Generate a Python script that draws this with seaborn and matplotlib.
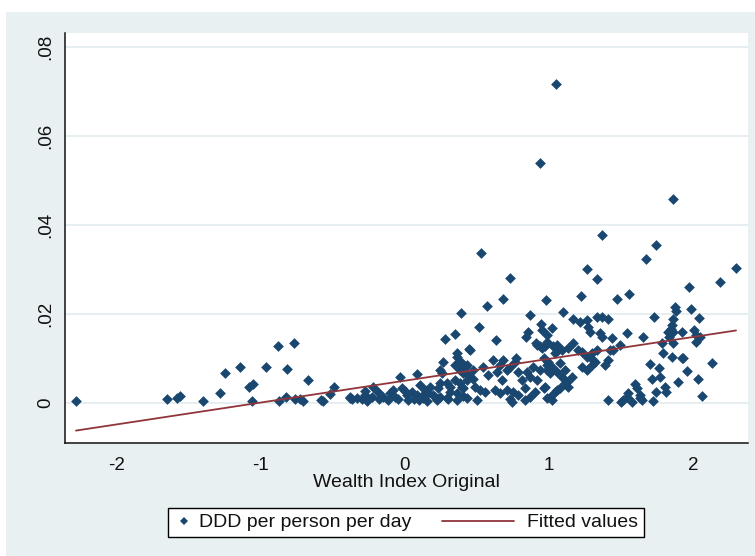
import matplotlib
matplotlib.use("Agg")
import matplotlib.pyplot as plt
from matplotlib.lines import Line2D
from matplotlib.patches import Rectangle
from matplotlib.legend_handler import HandlerLine2D
import seaborn as sns
import pandas as pd

# ---------------- data ----------------
wealth = [
    -2.28, -1.65, -1.58, -1.56, -1.40, -1.28, -1.25, -1.14, -1.08, -1.055,
    -1.06, -0.96, -0.88, -0.77, -0.815, -0.875, -0.825, -0.76, -0.705, -0.67,
    -0.73, -0.58, -0.52, -0.49, -0.57, -0.38, -0.37,
    -0.381, -0.335, -0.277, -0.231, -0.22, -0.185, -0.15, -0.104, -0.069, -0.035,
    -0.023, 0.012, 0.046, 0.081, 0.104, 0.127, 0.162, 0.196, 0.231, 0.243,
    0.254, 0.289, 0.312, 0.346, 0.346, 0.358, 0.381, 0.404, 0.428, 0.439,
    0.08, -0.30, -0.26, -0.18, -0.12, -0.05, 0.02, 0.06, 0.10, 0.15,
    0.22, -0.08, 0.0, 0.14, -0.28, 0.30, 0.36, 0.40,
    0.566, 0.677, 0.386, 0.51, 0.28, 0.346, 0.63, 0.866, 0.94, 0.855,
    0.84, 0.91, 0.97, 0.36, 0.446, 0.266, 0.66, 0.77, 0.50, 0.73, 0.83,
    0.53, 0.73, 0.977, 1.097, 1.02, 1.166, 1.213, 1.26, 1.33, 1.363, 1.41,
    1.22, 1.26, 1.333, 1.368, 1.467, 1.554, 1.668, 1.74, 1.726, 1.65,
    1.536, 1.432, 1.97, 2.18, 2.294, 1.87, 1.88, 1.98, 2.037, 2.0,
    2.02, 2.02, 2.13, 2.056, 2.03, 1.956, 1.93, 1.89,
    1.855, 1.848, 1.84, 1.825, 1.86, 1.83, 1.917, 2.044,
    1.78, 1.79, 1.86, 1.85, 1.917, 1.70, 1.757, 1.71, 1.77, 1.80,
    1.81, 1.74, 1.72, 1.63, 1.64, 1.594, 1.606, 1.547, 1.536, 1.513, 1.41,
    1.27, 1.282, 0.947, 1.35, 1.363, 1.49, 0.982, 0.987, 1.028, 1.063,
    1.04, 1.166, 1.132, 1.20, 1.225, 1.26, 1.294, 1.33, 1.42, 1.41,
    1.386, 0.935, 0.96, 0.993, 1.017, 1.05, 1.086, 1.12, 1.132, 0.982,
    0.96, 0.982, 1.04, 1.075, 1.11, 1.225, 1.26, 1.294, 1.317,
    1.63, 1.57, 1.50, 1.305, 1.443, 1.155, 1.017,
    0.45, 0.913, 0.947, 1.05, 1.086, 0.393, 0.416, 0.404, 0.428, 0.393,
    0.473, 0.485, 0.52, 0.554, 0.543, 0.577, 0.635, 0.67, 0.705, 0.728,
    0.762, 0.785, 0.809, 0.843, 0.866, 0.889, 0.913, 0.624, 0.658, 0.705,
    0.751, 0.785, 0.832, 0.866, 0.901, 0.739, 1.005, 1.05, 0.97, 0.935,
    0.982, 1.005, 1.074, 1.109, 0.681, 0.612,
    0.381, 0.428, 0.473, 0.243, 0.173, 0.243, 0.312, 0.381, 0.208, 0.289,
    0.358, 0.139,
    1.046, 0.935, 1.855,
]
ddd = [
    0.0005, 0.0009, 0.0012, 0.0015, 0.0005, 0.0023, 0.0067, 0.0080, 0.0037, 0.0042,
    0.0005, 0.0080, 0.0127, 0.0134, 0.0076, 0.0005, 0.0014, 0.0009, 0.0005, 0.0052,
    0.0008, 0.0007, 0.0020, 0.0035, 0.0005, 0.0011, 0.0010,
    0.0014, 0.0011, 0.0018, 0.0014, 0.0037, 0.0025, 0.0014, 0.0022, 0.0014, 0.0059,
    0.0033, 0.0018, 0.0025, 0.0018, 0.0040, 0.0011, 0.0022, 0.0018, 0.0033, 0.0014,
    0.0067, 0.0044, 0.0025, 0.0052, 0.0085, 0.0104, 0.0074, 0.0033, 0.0011, 0.0063,
    0.0065, 0.0008, 0.0005, 0.0008, 0.0006, 0.0009, 0.0006, 0.0010, 0.0007, 0.0005,
    0.0007, 0.0030, 0.0028, 0.0030, 0.0026, 0.0008, 0.0006, 0.0015,
    0.0218, 0.0233, 0.0203, 0.0171, 0.0143, 0.0154, 0.0142, 0.0197, 0.0178, 0.0160,
    0.0149, 0.0134, 0.0127, 0.0112, 0.0122, 0.0093, 0.0085, 0.0100, 0.0007, 0.0010, 0.0007,
    0.0336, 0.0282, 0.0231, 0.0204, 0.0168, 0.0189, 0.0183, 0.0187, 0.0193, 0.0193, 0.0189,
    0.0240, 0.0301, 0.0279, 0.0378, 0.0233, 0.0244, 0.0323, 0.0355, 0.0193, 0.0149,
    0.0157, 0.0145, 0.0261, 0.0272, 0.0304, 0.0216, 0.0207, 0.0211, 0.0190, 0.0164,
    0.0153, 0.0138, 0.0091, 0.0016, 0.0055, 0.0073, 0.0100, 0.0047,
    0.0188, 0.0175, 0.0166, 0.0160, 0.0160, 0.0149, 0.0160, 0.0149,
    0.0134, 0.0112, 0.0134, 0.0104, 0.0100, 0.0088, 0.0078, 0.0055, 0.0059, 0.0037,
    0.0025, 0.0025, 0.0005, 0.0018, 0.0007, 0.0042, 0.0033, 0.0022, 0.0014, 0.0007, 0.0007,
    0.0171, 0.0160, 0.0164, 0.0157, 0.0149, 0.0130, 0.0153, 0.0138, 0.0127, 0.0119,
    0.0112, 0.0134, 0.0123, 0.0119, 0.0115, 0.0104, 0.0112, 0.0119, 0.0119, 0.0097,
    0.0085, 0.0127, 0.0100, 0.0093, 0.0082, 0.0070, 0.0059, 0.0048, 0.0037, 0.0074,
    0.0033, 0.0011, 0.0025, 0.0033, 0.0044, 0.0082, 0.0074, 0.0085, 0.0093,
    0.0011, 0.0003, 0.0003, 0.0097, 0.0119, 0.0059, 0.0007,
    0.0119, 0.0130, 0.0123, 0.0130, 0.0119, 0.0089, 0.0082, 0.0067, 0.0052, 0.0037,
    0.0055, 0.0037, 0.0029, 0.0025, 0.0082, 0.0063, 0.0070, 0.0052, 0.0074, 0.0082,
    0.0093, 0.0070, 0.0052, 0.0070, 0.0059, 0.0082, 0.0052, 0.0029, 0.0022, 0.0029,
    0.0025, 0.0018, 0.0033, 0.0014, 0.0025, 0.0003, 0.0014, 0.0029, 0.0037, 0.0074,
    0.0085, 0.0067, 0.0089, 0.0074, 0.0097, 0.0097,
    0.0093, 0.0085, 0.0074, 0.0074, 0.0037, 0.0044, 0.0037, 0.0044, 0.0014, 0.0011,
    0.0022, 0.0022,
    0.0716, 0.0539, 0.0459,
]
fit_x = [-2.28, 2.294]
fit_y = [-0.0062, 0.0163]

x_ticks = [-2, -1, 0, 1, 2]
x_tick_labels = ["-2", "-1", "0", "1", "2"]
y_ticks = [0, 0.02, 0.04, 0.06, 0.08]
y_tick_labels = ["0", ".02", ".04", ".06", ".08"]

# ---------------- styling ----------------
NAVY = "#1a476f"
MAROON = "#90353b"
BG = "#e8f0f2"
GRID = "#e6eef1"
FONT = ["Liberation Sans", "DejaVu Sans"]

sns.set_theme(style="white")
plt.rcParams["font.family"] = FONT

fig = plt.figure(figsize=(7.55, 5.56), dpi=100)
fig.patch.set_facecolor("white")
# outer (graph region) background
fig.patches.append(Rectangle((6 / 755, 0), 1, 1 - 12 / 556, transform=fig.transFigure,
                             facecolor=BG, edgecolor="none", zorder=-10))

ax = fig.add_axes([65 / 755, 1 - 443 / 556, (748 - 65) / 755, (443 - 33) / 556])
ax.set_facecolor("white")

df = pd.DataFrame({"x": wealth, "y": ddd})
sns.scatterplot(data=df, x="x", y="y", marker="D", color=NAVY, s=30,
                linewidth=0, edgecolor=NAVY, ax=ax, legend=False, zorder=3)
fit_df = pd.DataFrame({"x": fit_x, "y": fit_y})
sns.lineplot(data=fit_df, x="x", y="y", color=MAROON, linewidth=1.3, ax=ax,
             legend=False, zorder=4)

ax.set_xlim(-2.356, 2.377)
ax.set_ylim(-0.00899, 0.08315)
ax.set_xticks(x_ticks)
ax.set_xticklabels(x_tick_labels)
ax.set_yticks(y_ticks)
ax.set_yticklabels(y_tick_labels)

ax.yaxis.grid(True, color=GRID, linewidth=1.4, zorder=0)
ax.xaxis.grid(False)
ax.set_axisbelow(True)

for s in ["top", "right"]:
    ax.spines[s].set_visible(False)
for s in ["left", "bottom"]:
    ax.spines[s].set_color("#111111")
    ax.spines[s].set_linewidth(1.1)

ax.tick_params(axis="both", which="major", direction="out", length=5, width=1.0,
               color="#111111", labelsize=13.5, labelcolor="#111111")
ax.tick_params(axis="x", pad=5)
ax.tick_params(axis="y", pad=3, labelrotation=90)
for lab in ax.get_yticklabels():
    lab.set_va("center")

ax.set_xlabel("Wealth Index Original", fontsize=14, color="#111111", labelpad=0)
ax.set_ylabel("")


# ---------------- legend ----------------
class LongLineHandler(HandlerLine2D):
    def create_artists(self, legend, orig_handle, xdescent, ydescent, width,
                       height, fontsize, trans):
        y = (height - ydescent) / 2.0
        line = Line2D([-xdescent - 3.1 * fontsize, -xdescent + 0.6 * fontsize], [y, y],
                      color=orig_handle.get_color(), linewidth=orig_handle.get_linewidth())
        line.set_transform(trans)
        return [line]


h_pts = Line2D([], [], marker="D", color=NAVY, linestyle="none", markersize=4.3,
               markeredgewidth=0)
h_fit = Line2D([], [], color=MAROON, linewidth=1.3)
leg = fig.legend([h_pts, h_fit], ["DDD per person per day", "Fitted values"],
                 loc="center", bbox_to_anchor=(406 / 755, 1 - 522.5 / 556),
                 ncol=2, fontsize=14, frameon=True, fancybox=False, framealpha=1,
                 edgecolor="black", facecolor="white", handlelength=1.0,
                 handletextpad=0.27, columnspacing=4.7, borderpad=0.3,
                 handler_map={h_fit: LongLineHandler()})
leg.get_frame().set_linewidth(1.0)
for t in leg.get_texts():
    t.set_color("#111111")

fig.savefig("out.png", dpi=100, facecolor=fig.get_facecolor())
